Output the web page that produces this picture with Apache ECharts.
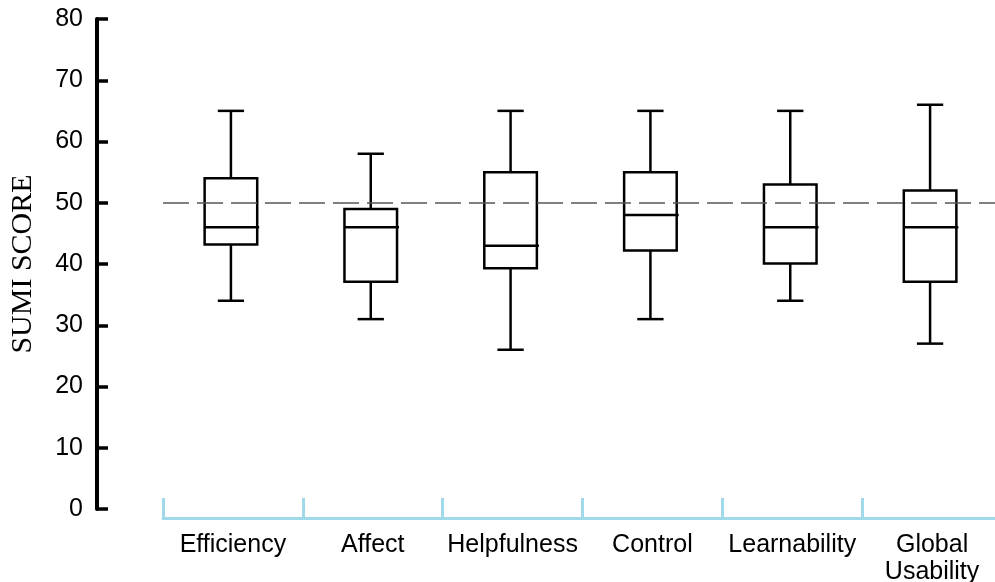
<!DOCTYPE html>
<html>
<head>
<meta charset="utf-8">
<script src="https://cdn.jsdelivr.net/npm/echarts@6/dist/echarts.min.js"></script>
<style>
    html, body { margin: 0; padding: 0; background: #fff; }
    #chart { width: 995px; height: 582px; }
</style>
</head>
<body>
<div id="chart"></div>
<script>
const categories = ["Efficiency", "Affect", "Helpfulness", "Control", "Learnability", "Global\nUsability"];
const whiskerLow = [34, 31, 26, 31, 34, 27];
const quartile1 = [43.2, 37.1, 39.3, 42.2, 40.1, 37.1];
const medians = [46, 46, 43, 48, 46, 46];
const quartile3 = [54, 49, 55, 55, 53, 52];
const whiskerHigh = [65, 58, 65, 65, 65, 66];
const referenceScore = 50;

const chart = echarts.init(document.getElementById("chart"));

const boxData = categories.map((c, i) => [i, whiskerLow[i], quartile1[i], medians[i], quartile3[i], whiskerHigh[i]]);

function renderBox(params, api) {
    const i = api.value(0);
    const low = api.coord([i, api.value(1)]);
    const q1 = api.coord([i, api.value(2)]);
    const med = api.coord([i, api.value(3)]);
    const q3 = api.coord([i, api.value(4)]);
    const high = api.coord([i, api.value(5)]);
    const band = api.size([1, 0])[0];
    const cx = low[0] - 2;
    const half = band * 0.188;
    const cap = half / 2;
    const stroke = { stroke: "#000", lineWidth: 2.5, fill: null };
    return {
        type: "group",
        children: [
            { type: "line", shape: { x1: cx, y1: q3[1], x2: cx, y2: high[1] }, style: stroke },
            { type: "line", shape: { x1: cx, y1: q1[1], x2: cx, y2: low[1] }, style: stroke },
            { type: "line", shape: { x1: cx - cap, y1: high[1], x2: cx + cap, y2: high[1] }, style: stroke },
            { type: "line", shape: { x1: cx - cap, y1: low[1], x2: cx + cap, y2: low[1] }, style: stroke },
            { type: "rect", shape: { x: cx - half, y: q3[1], width: half * 2, height: q1[1] - q3[1] }, style: { stroke: "#000", lineWidth: 2.5, fill: "#fff" } },
            { type: "line", shape: { x1: cx - half, y1: med[1], x2: cx + half + 2, y2: med[1] }, style: stroke }
        ]
    };
}

chart.setOption({
    animation: false,
    grid: { left: 163, top: 19, right: -7, bottom: 73, containLabel: false, outerBoundsMode: "none" },
    xAxis: {
        type: "category",
        data: categories,
        offset: 9,
        axisLine: { onZero: false, lineStyle: { color: "#9fd9ea", width: 3 } },
        axisTick: { show: true, inside: true, length: 20, interval: 0, alignWithLabel: false, lineStyle: { color: "#9fd9ea", width: 3 } },
        axisLabel: { interval: 0, margin: 14, fontSize: 25, lineHeight: 27, color: "#000", fontFamily: "Liberation Sans" },
        splitLine: { show: false }
    },
    yAxis: {
        type: "value",
        min: 0,
        max: 80,
        interval: 10,
        offset: 66,
        name: "SUMI SCORE",
        nameLocation: "middle",
        nameGap: 59,
        nameTextStyle: { fontSize: 30, color: "#000", fontFamily: "Liberation Serif" },
        axisLine: { show: true, lineStyle: { color: "#000", width: 4 } },
        axisTick: { show: true, inside: true, length: 11, lineStyle: { color: "#000", width: 3.5 } },
        axisLabel: { margin: 14, fontSize: 25, color: "#000", fontFamily: "Liberation Sans" },
        splitLine: { show: false }
    },
    series: [
        {
            type: "line",
            data: [],
            silent: true,
            markLine: {
                symbol: "none",
                silent: true,
                label: { show: false },
                lineStyle: { type: [26, 8], color: "#555", width: 1.5 },
                data: [{ yAxis: referenceScore }]
            }
        },
        {
            type: "custom",
            renderItem: renderBox,
            data: boxData,
            encode: { x: 0, y: [1, 2, 3, 4, 5] },
            z: 3
        }
    ]
});
</script>
</body>
</html>
